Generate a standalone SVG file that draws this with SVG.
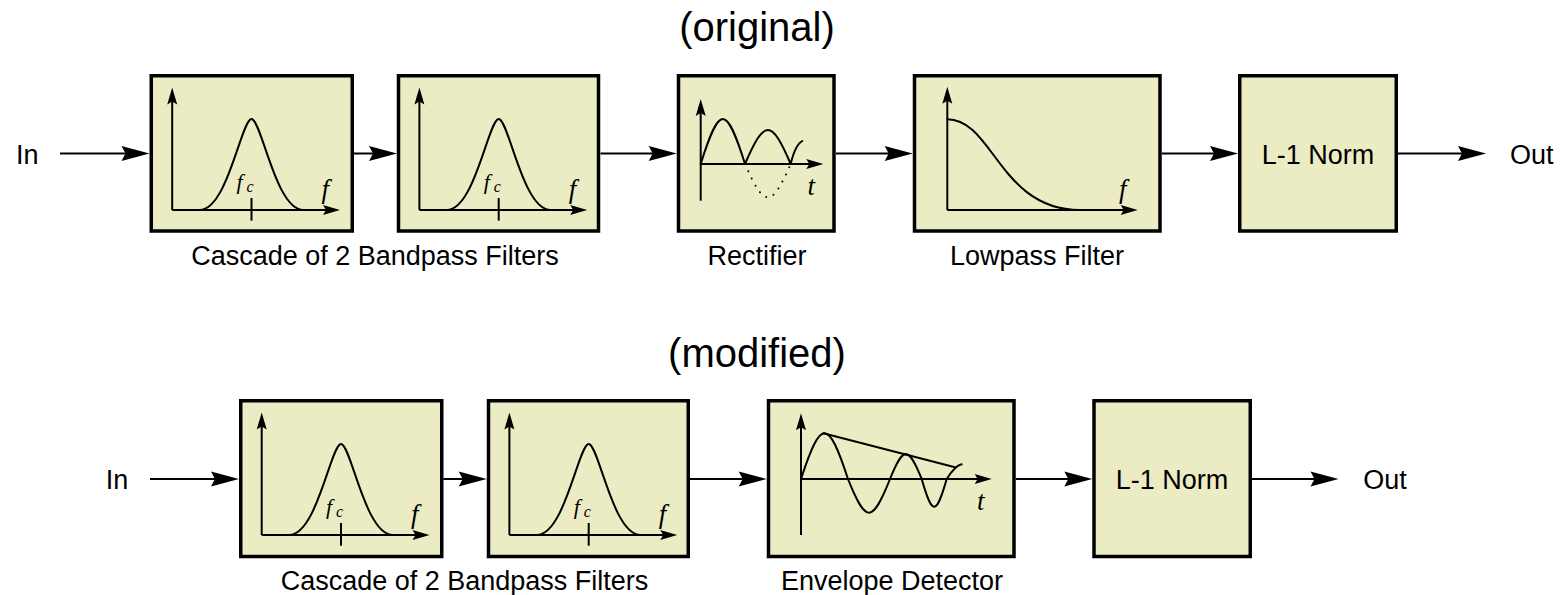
<svg xmlns="http://www.w3.org/2000/svg" width="1564" height="595" viewBox="0 0 1564 595">
  <style>
    .box { fill: #ECECC4; stroke: #000; stroke-width: 3.5; }
    .wire { fill: none; stroke: #000; stroke-width: 2; }
    .axis { fill: none; stroke: #000; stroke-width: 2; }
    .curve { fill: none; stroke: #000; stroke-width: 2; stroke-linejoin: round; stroke-linecap: round; }
    .dots { fill: none; stroke: #000; stroke-width: 2; stroke-linecap: round; stroke-dasharray: 0 8; }
    .label { font-family: "Liberation Sans", Arial, sans-serif; font-size: 27px; fill: #000; }
    .title { font-family: "Liberation Sans", Arial, sans-serif; font-size: 40px; fill: #000; text-anchor: middle; }
    .mid { text-anchor: middle; }
    .math { font-family: "Liberation Serif", "Times New Roman", serif; font-style: italic; font-size: 27px; fill: #000; }
    .mathsm { font-family: "Liberation Serif", "Times New Roman", serif; font-style: italic; font-size: 22px; fill: #000; }
  </style>
  <defs>
    <marker id="conn-head" markerUnits="userSpaceOnUse" viewBox="-30 -9 32 18" markerWidth="32" markerHeight="18" refX="-10" refY="0" orient="auto" overflow="visible">
      <path d="M0,0 L-28,-7.5 L-24,0 L-28,7.5 Z" fill="#000"/>
    </marker>
    <marker id="axis-head" markerUnits="userSpaceOnUse" viewBox="-20 -6 22 12" markerWidth="22" markerHeight="12" refX="-6" refY="0" orient="auto" overflow="visible">
      <path d="M0,0 L-17,-5 L-14,0 L-17,5 Z" fill="#000"/>
    </marker>
    <!-- bandpass response plot, drawn relative to the box's top-left corner -->
    <g id="bp-plot">
      <path class="axis" d="M22.7,136 V19.5" marker-end="url(#axis-head)"/>
      <path class="axis" d="M22.7,136 H184.5" marker-end="url(#axis-head)"/>
      <path class="curve" d="M50,136 C78,136 92,45 102,45 S126,136 154,136"/>
      <path class="axis" d="M102,124 V146.7"/>
      <text class="mathsm" x="87" y="115">f<tspan x="97" dy="3" font-size="16">c</tspan></text>
      <text class="math" x="172" y="124">f</text>
    </g>
  </defs>

  <!-- titles -->
  <text class="title" x="757" y="41">(original)</text>
  <text class="title" x="757" y="366.5">(modified)</text>

  <!-- ===== original chain ===== -->
  <g id="in-top"><text class="label" x="16" y="164">In</text></g>

  <g id="bp1-top">
    <rect class="box" x="151.25" y="75.75" width="201" height="155.25"/>
    <use href="#bp-plot" x="149.5" y="74"/>
  </g>
  <g id="bp2-top">
    <rect class="box" x="398.5" y="75.75" width="200" height="155.25"/>
    <use href="#bp-plot" x="396.7" y="74"/>
  </g>
  <text class="label mid" x="375" y="265">Cascade of 2 Bandpass Filters</text>

  <g id="rectifier-top">
    <rect class="box" x="678.5" y="75.75" width="155.5" height="155.25"/>
    <path class="axis" d="M700.7,200.7 V105" marker-end="url(#axis-head)"/>
    <path class="axis" d="M700.7,164 H817.3" marker-end="url(#axis-head)"/>
    <path class="curve" d="M700.7,164 C719.5,104 726.2,104 745,164 C764.4,118.7 771.3,118.7 790.7,164 C793.5,152 797,144 802.3,141"/>
    <path class="dots" d="M745,164 C764.4,208.4 771.3,208.4 790.7,164"/>
    <text class="math" x="807.5" y="195">t</text>
    <text class="label mid" x="757" y="265">Rectifier</text>
  </g>

  <g id="lowpass-top">
    <rect class="box" x="914.5" y="75.75" width="245.5" height="155.25"/>
    <path class="axis" d="M947.3,210 V92.7" marker-end="url(#axis-head)"/>
    <path class="axis" d="M947.3,210 H1131.7" marker-end="url(#axis-head)"/>
    <path class="curve" d="M947.3,119.3 C993,119.3 1000,210 1080,210"/>
    <text class="math" x="1119" y="198">f</text>
    <text class="label mid" x="1037" y="265">Lowpass Filter</text>
  </g>

  <g id="l1norm-top">
    <rect class="box" x="1239.75" y="75.75" width="156.5" height="155.25"/>
    <text class="label mid" x="1318" y="164">L-1 Norm</text>
  </g>

  <g id="out-top"><text class="label" x="1510" y="164">Out</text></g>

  <!-- ===== modified chain ===== -->
  <g id="in-bottom"><text class="label" x="105.7" y="489">In</text></g>

  <g id="bp1-bottom">
    <rect class="box" x="240.75" y="400.75" width="201" height="155.75"/>
    <use href="#bp-plot" x="239" y="399"/>
  </g>
  <g id="bp2-bottom">
    <rect class="box" x="488.5" y="400.75" width="199.75" height="155.75"/>
    <use href="#bp-plot" x="486.7" y="399"/>
  </g>
  <text class="label mid" x="464.5" y="590">Cascade of 2 Bandpass Filters</text>

  <g id="envelope-bottom">
    <rect class="box" x="768.5" y="400.75" width="245.5" height="155.75"/>
    <path class="axis" d="M801,535 V419.3" marker-end="url(#axis-head)"/>
    <path class="axis" d="M801,479 H985.7" marker-end="url(#axis-head)"/>
    <path class="curve" d="M801,479 C820.9,418.1 828.1,418.1 848,479 C865.8,523.9 872.2,523.9 890,479 C903.5,445.7 908.2,445.7 921.7,479 C932.3,515.9 936.1,515.9 946.7,479 C951.7,471.2 956.2,465 961.7,464.3"/>
    <path class="curve" d="M823.3,433.3 L955,467.3"/>
    <text class="math" x="977" y="510">t</text>
    <text class="label mid" x="892" y="590">Envelope Detector</text>
  </g>

  <g id="l1norm-bottom">
    <rect class="box" x="1094" y="400.75" width="156.25" height="155.75"/>
    <text class="label mid" x="1172" y="489">L-1 Norm</text>
  </g>

  <g id="out-bottom"><text class="label" x="1363.3" y="489">Out</text></g>

  <!-- signal flow -->
  <g id="connectors">
    <path class="wire" d="M60,153.5 H139.5" marker-end="url(#conn-head)"/>
    <path class="wire" d="M354,153.5 H387" marker-end="url(#conn-head)"/>
    <path class="wire" d="M600.5,153.5 H666.7" marker-end="url(#conn-head)"/>
    <path class="wire" d="M836,153.5 H902.7" marker-end="url(#conn-head)"/>
    <path class="wire" d="M1161.7,153.5 H1228" marker-end="url(#conn-head)"/>
    <path class="wire" d="M1398,153.5 H1476" marker-end="url(#conn-head)"/>

    <path class="wire" d="M150,479 H229" marker-end="url(#conn-head)"/>
    <path class="wire" d="M443.3,479 H476.7" marker-end="url(#conn-head)"/>
    <path class="wire" d="M690,479 H756.7" marker-end="url(#conn-head)"/>
    <path class="wire" d="M1015.7,479 H1082.3" marker-end="url(#conn-head)"/>
    <path class="wire" d="M1252,479 H1328.5" marker-end="url(#conn-head)"/>
  </g>
</svg>
